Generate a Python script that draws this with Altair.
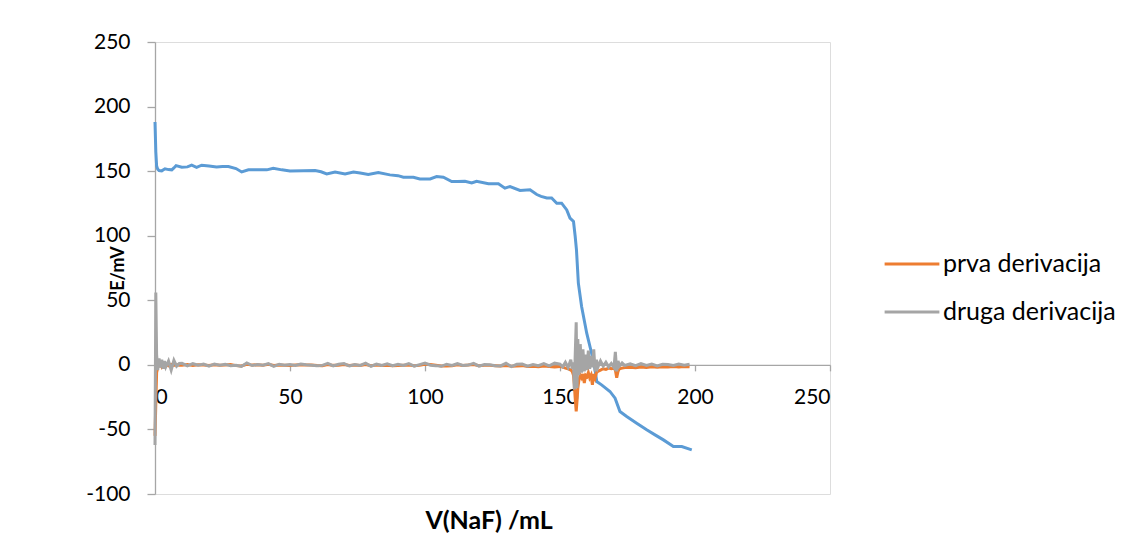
import altair as alt
import pandas as pd

# --- Titration curve E vs V(NaF) ---
e_x = [0, 0.3, 0.6, 1, 1.5, 2.5, 3.7, 5, 6.2, 7, 7.8, 9.9, 12, 13.6, 15.4, 17.3, 20, 22.8,
       25, 27.2, 30, 32.1, 34.6, 38, 41.4, 43.8, 47, 50, 55, 59.3, 61.5, 63.6, 66.7, 70.4,
       73.5, 76, 79, 82.7, 87, 90, 92, 95.7, 98.1, 101.9, 104.3, 106.8, 109.9, 112, 114.8,
       117.3, 119.1, 123.5, 127.2, 129.6, 131.5, 135.2, 138.9, 141.4, 143, 145.1, 146.9,
       148.8, 150.6, 152.5, 153.7, 155, 155.6, 156.1, 156.8, 158, 159.9, 161.7, 163, 163.6,
       165.4, 168.5, 170.4, 172.2, 174.7, 178.4, 182.1, 185.2, 188.3, 192, 195.1, 198.8]
e_y = [188, 165, 154, 151.5, 150.5, 150.2, 151.8, 151.2, 151, 152.5, 154.3, 153, 153.3,
       154.6, 153, 154.6, 154, 153.3, 153.5, 153.6, 152, 149.4, 151, 151, 151, 152.3, 151,
       150.2, 150.3, 150.5, 149.5, 147.9, 149.4, 147.9, 149.4, 148.5, 147.4, 148.9, 147.1,
       146.5, 145.3, 145.3, 144, 144, 145.8, 145.3, 141.9, 142, 142.2, 140.9, 142.2, 140.2,
       140.2, 136.8, 138.1, 135, 135.5, 131.9, 130.5, 129.3, 129.3, 125.2, 125.2, 120, 113.6,
       111, 100, 89, 63.3, 45.2, 24.5, 9, -3.9, -12.9, -15.5, -20.6, -25.8, -36.1, -40,
       -45.2, -50.3, -54.2, -58.1, -63.3, -63.3, -65.8]

# --- Derivatives ---
d_x = [0, 0.3, 0.6, 1, 1.5, 2, 2.5, 3, 3.5, 4, 5, 6, 7, 8, 9,
       10, 12, 14, 16, 18, 20, 22, 24, 26, 28,
       30, 32, 34, 36, 38, 40, 42, 44, 46, 48,
       50, 52, 54, 56, 58, 60, 62, 64, 66, 68,
       70, 72, 74, 76, 78, 80, 82, 84, 86, 88,
       90, 92, 94, 96, 98, 100, 102, 104, 106, 108,
       110, 112, 114, 116, 118, 120, 122, 124, 126, 128,
       130, 132, 134, 136, 138, 140, 142, 144, 146, 148,
       150, 151, 152, 153, 154, 154.5, 155, 155.3, 155.6, 156, 156.3, 156.6, 157, 157.5,
       158, 158.5, 159, 159.5, 160, 160.5, 161, 161.5, 162, 162.5, 163, 163.5, 164, 165,
       166, 167, 168, 169, 170, 170.5, 171, 171.5, 172, 173, 174,
       176, 178, 180, 182, 184, 186, 188, 190, 192, 194, 196, 198]
prva = [-55, -30, -6, -2, -0.5, 0.5, -1.5, 0.5, -1, 0.3, -0.8, 0.4, -0.5, 0.2, -0.3,
        -0.3, 0.2, -0.4, 0.1, -0.2, -0.5, 0.1, -0.3, -0.2, 0.2,
        -0.6, -0.9, 0.5, -0.2, 0.1, -0.3, 0.4, -0.5, -0.2, -0.3,
        -0.4, -0.1, 0.1, -0.2, -0.1, -0.5, -0.6, 0.3, -0.4, -0.3,
        0.2, -0.5, -0.2, -0.4, 0.3, -0.6, -0.2, -0.5, -0.3, -0.6,
        -0.5, -0.3, -0.2, -0.6, -0.4, 0.5, 0.3, -0.2, -0.9, -0.8,
        -0.6, 0.1, -0.4, -0.2, 0.2, -0.7, -0.4, -0.3, -0.6, -0.9,
        -0.5, -1.0, -0.8, -0.6, -1.2, -1.1, -1.4, -0.9, -1.3, -1.6,
        -1.2, -1.8, -2.5, -3, -4, -5, -8, -15, -25, -36, -28, -18, -12, -8,
        -10, -7, -14, -8, -9, -6, -10, -8, -15.5, -7, -10, -6, -5, -4,
        -3, -3.5, -2.5, -3, -2.5, -4, -10, -5, -3, -2.5, -2,
        -1.8, -2.2, -1.6, -2, -1.5, -1.8, -1.4, -1.7, -1.3, -1.6, -1.2, -1.5]
druga = [-62, 56, 8, -4, 5, -2, 4, -3, 3, -1.5, 3, -4, 3.5, -1, 1,
         1.2, -0.8, 0.9, -0.3, 0.6, -1.0, 0.7, -0.2, 0.4, -0.6,
         -0.4, -1.2, 1.5, -0.5, 0.3, -0.2, 1.0, -1.1, 0.5, -0.3,
         0.2, -0.4, 0.6, 0.0, -0.3, -0.7, -0.4, 1.1, -0.8, 0.4,
         1.0, -0.9, 0.3, -0.4, 1.3, -1.2, 0.6, -0.5, 0.8, -0.7,
         0.4, -0.5, 0.9, -1.0, 0.2, 1.4, -0.3, -0.6, -1.1, 0.5,
         -0.4, 0.9, -0.5, -0.2, 1.1, -1.0, 0.3, 0.1, -0.6, -0.8,
         1.2, -1.3, 0.4, 0.6, -1.0, 0.2, -0.6, 1.0, -0.8, 1.3,
         0.5, -1.5, 2, -2, 4, -3, 2, -19, 5, 33, -18, 20, -8, 16,
         -6, 12, -5, 8, -4, 11, -3, 7, -2, 12, -5, 4, -2, 3,
         -1, 2, -1.5, 1, -2, 10, -5, 3, -1, 1.5, -0.5,
         0.8, -0.6, 1.0, -0.4, 0.6, -0.8, 0.5, 0.2, -0.5, 0.7, -0.3, 0.4]

series_names = ["prva derivacija", "druga derivacija"]
series_colors = ["#ED7D31", "#A5A5A5"]
x_ticks = [0, 50, 100, 150, 200, 250]
y_ticks = [-100, -50, 0, 50, 100, 150, 200, 250]

assert len(e_x) == len(e_y)
assert len(d_x) == len(prva) == len(druga)

df_e = pd.DataFrame({"V": e_x, "E": e_y})
df_p = pd.DataFrame({"V": d_x, "E": prva, "series": series_names[0]})
df_d = pd.DataFrame({"V": d_x, "E": druga, "series": series_names[1]})

W, H = 675, 452
FONT = "Lato"
AX = "#A6A6A6"

xscale = alt.Scale(domain=[0, 250], nice=False, zero=False)
yscale = alt.Scale(domain=[-100, 250], nice=False)

xaxis = alt.Axis(values=x_ticks, grid=False, offset=-H * 100 / 350, tickSize=6,
                 labelPadding=16, labelFont=FONT, labelFontSize=21, labelColor="black",
                 labelExpr="datum.value",
                 domainColor=AX, tickColor=AX, domainWidth=1.3, tickWidth=1.3,
                 title="V(NaF) /mL", titleFont=FONT, titleFontSize=25,
                 titleFontWeight="bold", titleColor="black",
                 titleX=W / 2 - 4, titleY=H * 100 / 350 + 26, titleBaseline="middle",
                 titleAlign="center")
yaxis = alt.Axis(values=y_ticks, grid=False, tickSize=8, labelPadding=17,
                 labelFont=FONT, labelFontSize=21, labelColor="black",
                 labelExpr="datum.value",
                 domainColor=AX, tickColor=AX, domainWidth=1.3, tickWidth=1.3,
                 title="E/mV", titleFont=FONT, titleFontSize=18, titleFontWeight="bold",
                 titleColor="black", titleX=-37, titleY=H / 2, titleBaseline="middle",
                 titleAlign="center", titleAngle=270)

color = alt.Color("series:N",
                  scale=alt.Scale(domain=series_names, range=series_colors),
                  legend=alt.Legend(orient="none", legendX=728, legendY=193, title=None,
                                    symbolType="stroke", symbolSize=3000,
                                    symbolStrokeWidth=3, labelFont=FONT,
                                    labelFontSize=25, labelColor="black", labelLimit=0,
                                    rowPadding=6, labelOffset=2, padding=0))

blue = alt.Chart(df_e).mark_line(color="#5B9BD5", strokeWidth=3).encode(
    x=alt.X("V:Q", scale=xscale, axis=xaxis),
    y=alt.Y("E:Q", scale=yscale, axis=yaxis),
)
orange = alt.Chart(df_p).mark_line(strokeWidth=3).encode(
    x=alt.X("V:Q", scale=xscale), y=alt.Y("E:Q", scale=yscale), color=color)
gray = alt.Chart(df_d).mark_line(strokeWidth=3).encode(
    x=alt.X("V:Q", scale=xscale), y=alt.Y("E:Q", scale=yscale), color=color)

chart = alt.layer(blue, orange, gray).properties(
    width=W, height=H,
    autosize=alt.AutoSizeParams(type="none"),
    padding={"left": 147, "top": 34, "right": 290, "bottom": 54},
).configure_view(stroke=None).configure(background="white")

chart.save("out.html", embed_options={"renderer": "svg", "actions": False})
